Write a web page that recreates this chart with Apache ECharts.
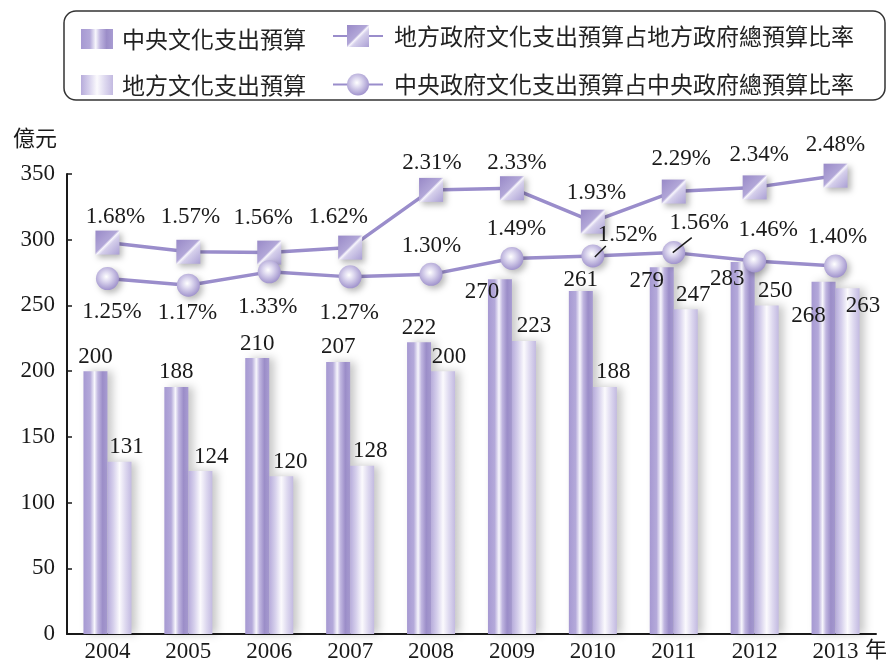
<!DOCTYPE html>
<html><head><meta charset="utf-8">
<script src="https://cdn.jsdelivr.net/npm/echarts@6/dist/echarts.min.js"></script>
<style>html,body{margin:0;padding:0;background:#fff}#c{width:890px;height:663px}</style>
</head><body><div id="c"></div>
<script>
// ---- data ----
const years = ['2004','2005','2006','2007','2008','2009','2010','2011','2012','2013'];
const centralBudget = [200,188,210,207,222,270,261,279,283,268];
const localBudget = [131,124,120,128,200,223,188,247,250,263];
const localRatio = [1.68,1.57,1.56,1.62,2.31,2.33,1.93,2.29,2.34,2.48];
const centralRatio = [1.25,1.17,1.33,1.27,1.30,1.49,1.52,1.56,1.46,1.40];
const seriesNames = ['中央文化支出預算','地方文化支出預算','地方政府文化支出預算占地方政府總預算比率','中央政府文化支出預算占中央政府總預算比率'];
const yName = '億元';
const xName = '年';

// ---- label placement (style only) ----
const centralBarLabelOffset = [[0,0],[0,0],[0,0],[0,0],[0,0],[-18,27],[0,3],[-15,28],[-15.5,31],[-15,49]];
const localBarLabelOffset = [[7,0],[11,0],[9,0],[8,0],[6,0],[10,0],[8.5,0],[7.5,0],[8.5,0],[15.5,32]];
const localRatioShift = [[8,4.5],[2,-4.5],[-6,-4.5],[-12,-0.5],[1,3.5],[5,5.5],[3.5,1.5],[7.5,-2.5],[4.5,-1.5],[0,-0.5]];
const centralRatioBelow = [true,true,true,true,false,false,false,false,false,false];
const centralRatioShift = [[4.5,-1],[-1,-6],[-1.5,1],[-1,2],[0.5,2],[4.5,0.5],[34.5,9],[25.5,0],[13.5,-1],[2,1]];
// leader lines (pixel vectors relative to marker centre) for labels moved aside
const leaderLines = {6:[[2,1],[13,-10]], 7:[[-1,0],[18,-15]]};

const SERIF = 'Liberation Serif';
const CJK = 'Noto Sans CJK TC';
const ink = '#1a1a1a';
const lineColor = '#9a8dcb';

const centralGrad = {type:'linear',x:0,y:0,x2:1,y2:0,colorStops:[
  {offset:0,color:'#a699d2'},{offset:0.28,color:'#b4a9da'},{offset:0.46,color:'#f7f6fc'},
  {offset:0.6,color:'#c0b6e0'},{offset:0.8,color:'#9b8dc8'},{offset:1,color:'#a89cd2'}]};
const localGrad = {type:'linear',x:0,y:0,x2:1,y2:0,colorStops:[
  {offset:0,color:'#b7acdb'},{offset:0.25,color:'#d6d0ec'},{offset:0.5,color:'#fbfafd'},
  {offset:0.75,color:'#ddd8ef'},{offset:1,color:'#c3bae1'}]};
const squareGrad = {type:'linear',x:0,y:0,x2:1,y2:1,colorStops:[
  {offset:0,color:'#9889c7'},{offset:0.46,color:'#b2a7d8'},{offset:0.52,color:'#f7f5fc'},
  {offset:0.6,color:'#d5cfeb'},{offset:1,color:'#aa9fd4'}]};
const circleGrad = {type:'radial',x:0.45,y:0.42,r:0.62,colorStops:[
  {offset:0,color:'#ffffff'},{offset:0.35,color:'#ddd8ef'},{offset:1,color:'#9a8cc9'}]};

const numLabel = {fontFamily:SERIF,fontSize:23,color:ink};

const chart = echarts.init(document.getElementById('c'));
chart.setOption({
  animation:false,
  backgroundColor:'#fff',
  grid:{left:67,right:12,top:174,bottom:29,containLabel:false},
  graphic:[{type:'rect',shape:{x:64,y:11,width:821,height:89,r:12},
    style:{fill:'none',stroke:'#333',lineWidth:1.5},z:-1}],
  legend:[
    {orient:'vertical',left:81,top:27,padding:0,itemWidth:32,itemHeight:20,itemGap:22,icon:'rect',
     selectedMode:false,data:[seriesNames[0],seriesNames[1]],
     textStyle:{fontFamily:CJK,fontSize:23,color:'#222',lineHeight:24,padding:[0,0,0,4]}},
    {orient:'vertical',left:332,top:24,padding:0,itemWidth:50,itemHeight:27.5,itemGap:24.5,
     selectedMode:false,data:[seriesNames[2],seriesNames[3]],
     textStyle:{fontFamily:CJK,fontSize:23,color:'#222',lineHeight:24,padding:[0,0,0,6]}}
  ],
  xAxis:{type:'category',data:years,
    name:xName,nameLocation:'end',nameGap:-11,
    nameTextStyle:{fontFamily:CJK,fontSize:22,color:ink,align:'left',verticalAlign:'top',padding:[4,0,0,0]},
    axisLine:{lineStyle:{color:ink,width:2}},
    axisTick:{inside:true,length:6,lineStyle:{color:ink,width:1.5}},
    axisLabel:{fontFamily:SERIF,fontSize:23,color:ink,margin:6}},
  yAxis:[
    {type:'value',min:0,max:350,interval:50,
     name:yName,nameLocation:'end',nameGap:36,
     nameTextStyle:{fontFamily:CJK,fontSize:22,color:ink,align:'right',verticalAlign:'middle',padding:[0,10,0,0]},
     axisLine:{show:true,lineStyle:{color:ink,width:2}},
     axisTick:{show:true,inside:true,length:5,lineStyle:{color:ink,width:1.5}},
     axisLabel:{fontFamily:SERIF,fontSize:23,color:ink,margin:12},
     splitLine:{show:false}},
    {type:'value',min:-3,max:2.5,show:false,splitLine:{show:false},alignTicks:false}
  ],
  series:[
    {name:seriesNames[0],type:'bar',barWidth:24,barGap:'0%',z:2,
     itemStyle:{color:centralGrad,shadowColor:'rgba(0,0,0,0.22)',shadowBlur:8,shadowOffsetX:5},
     label:Object.assign({show:true,position:'top',distance:3},numLabel),
     data:centralBudget.map((v,i)=>({value:v,label:{offset:centralBarLabelOffset[i]}}))},
    {name:seriesNames[1],type:'bar',barWidth:24,barGap:'0%',z:2,
     itemStyle:{color:localGrad,shadowColor:'rgba(0,0,0,0.22)',shadowBlur:8,shadowOffsetX:5},
     label:Object.assign({show:true,position:'top',distance:3},numLabel),
     data:localBudget.map((v,i)=>({value:v,label:{offset:localBarLabelOffset[i]}}))},
    {name:seriesNames[2],type:'line',yAxisIndex:1,z:5,
     symbol:'rect',symbolSize:24,
     lineStyle:{color:lineColor,width:3.5},
     itemStyle:{color:squareGrad,borderWidth:0,shadowColor:'rgba(0,0,0,0.28)',shadowBlur:6,shadowOffsetX:3,shadowOffsetY:3},
     label:Object.assign({show:true,position:'top',distance:7,formatter:p=>p.value.toFixed(2)+'%'},numLabel),
     labelLayout:p=>({dx:localRatioShift[p.dataIndex][0],dy:localRatioShift[p.dataIndex][1]}),
     data:localRatio},
    {name:seriesNames[3],type:'line',yAxisIndex:1,z:6,
     symbol:'circle',symbolSize:23,
     lineStyle:{color:lineColor,width:3.5},
     itemStyle:{color:circleGrad,borderWidth:0,shadowColor:'rgba(0,0,0,0.28)',shadowBlur:6,shadowOffsetX:3,shadowOffsetY:3},
     label:Object.assign({show:true,position:'top',distance:7,formatter:p=>p.value.toFixed(2)+'%'},numLabel),
     labelLayout:p=>({dx:centralRatioShift[p.dataIndex][0],dy:centralRatioShift[p.dataIndex][1]}),
     data:centralRatio.map((v,i)=>({value:v,
       label:{position:centralRatioBelow[i]?'bottom':'top',distance:centralRatioBelow[i]?11:7}}))},
    {name:'leader',type:'custom',yAxisIndex:1,z:8,silent:true,
     data:Object.keys(leaderLines).map(k=>[+k, centralRatio[+k]]),
     renderItem:(params,api)=>{
       const idx = api.value(0);
       const c = api.coord([idx, api.value(1)]);
       const v = leaderLines[idx];
       return {type:'line',shape:{x1:c[0]+v[0][0],y1:c[1]+v[0][1],x2:c[0]+v[1][0],y2:c[1]+v[1][1]},
         style:{stroke:ink,lineWidth:1.5}};
     }}
  ]
});
</script></body></html>
